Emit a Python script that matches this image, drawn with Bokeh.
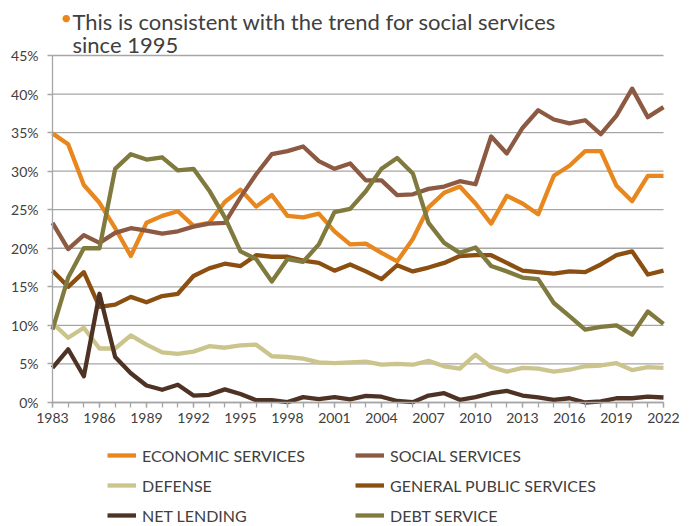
from bokeh.plotting import figure
from bokeh.models import (Legend, LegendItem, Label, FixedTicker, PrintfTickFormatter, Range1d)
from bokeh.embed import file_html
from bokeh.resources import INLINE

years = list(range(1983, 2023))
economic = [34.9, 33.5, 28.2, 25.9, 22.6, 19.0, 23.3, 24.2, 24.8, 22.9,
            23.3, 26.0, 27.6, 25.4, 26.9, 24.2, 24.0, 24.5, 22.2, 20.5,
            20.6, 19.4, 18.3, 21.2, 25.3, 27.2, 28.0, 25.8, 23.2, 26.8,
            25.8, 24.4, 29.4, 30.7, 32.6, 32.6, 28.1, 26.1, 29.4, 29.4]
social = [23.3, 19.9, 21.7, 20.7, 22.0, 22.6, 22.3, 21.9, 22.2, 22.8,
          23.2, 23.3, 26.6, 29.6, 32.2, 32.6, 33.2, 31.3, 30.3, 31.0,
          28.8, 28.8, 26.9, 27.0, 27.7, 28.0, 28.7, 28.3, 34.5, 32.3,
          35.6, 37.9, 36.7, 36.2, 36.6, 34.8, 37.2, 40.7, 37.0, 38.3]
defense = [10.3, 8.4, 9.7, 7.0, 7.0, 8.7, 7.5, 6.5, 6.3, 6.6,
           7.3, 7.1, 7.4, 7.5, 6.0, 5.9, 5.7, 5.2, 5.1, 5.2,
           5.3, 4.9, 5.0, 4.9, 5.4, 4.7, 4.4, 6.2, 4.6, 4.0,
           4.5, 4.4, 4.0, 4.25, 4.7, 4.8, 5.1, 4.2, 4.6, 4.5]
general_public = [17.1, 15.0, 16.9, 12.4, 12.7, 13.7, 13.0, 13.8, 14.1, 16.4,
                  17.4, 18.0, 17.7, 19.1, 18.9, 18.9, 18.4, 18.1, 17.1, 17.9,
                  17.0, 16.0, 17.8, 17.0, 17.5, 18.1, 19.0, 19.1, 19.1, 18.1,
                  17.1, 16.9, 16.7, 17.0, 16.9, 17.9, 19.1, 19.6, 16.6, 17.1]
net_lending = [4.5, 6.9, 3.4, 14.1, 5.9, 3.8, 2.2, 1.65, 2.3, 0.9,
               1.0, 1.7, 1.1, 0.3, 0.3, 0.05, 0.7, 0.45, 0.7, 0.4,
               0.85, 0.75, 0.2, 0.05, 0.9, 1.2, 0.35, 0.7, 1.2, 1.5,
               0.9, 0.65, 0.35, 0.55, 0.0, 0.15, 0.55, 0.55, 0.75, 0.65]
debt_service = [9.45, 16.2, 20.0, 20.0, 30.3, 32.2, 31.5, 31.8, 30.1, 30.3,
                27.5, 24.0, 19.6, 18.6, 15.7, 18.6, 18.25, 20.5, 24.7, 25.1,
                27.4, 30.3, 31.7, 29.7, 23.3, 20.7, 19.4, 20.1, 17.7, 17.0,
                16.2, 16.0, 12.9, 11.2, 9.45, 9.8, 10.0, 8.8, 11.8, 10.2]

series_names = ["ECONOMIC SERVICES", "SOCIAL SERVICES", "DEFENSE",
                "GENERAL PUBLIC SERVICES", "NET LENDING", "DEBT SERVICE"]
series_values = [economic, social, defense, general_public, net_lending, debt_service]
colors = ["#E8871E", "#8C5A42", "#CBC48C", "#8C4F12", "#4E3224", "#807A3E"]

x_ticks = list(range(1983, 2023, 3))
y_ticks = list(range(0, 50, 5))
title_lines = ["This is consistent with the trend for social services", "since 1995"]

FONT = "Lato"
TXT = "#404040"
GRID = "#A6A6A6"

# The frame covers the whole canvas: 1983..2022 sits at x 52..663, 0..45% at y 402..55
p = figure(width=692, height=526, output_backend="svg", toolbar_location=None,
           x_range=Range1d(1979.681, 2023.851), y_range=Range1d(-16.08, 52.13),
           min_border_left=0, min_border_right=0, min_border_top=0, min_border_bottom=0)
p.outline_line_color = None
p.background_fill_color = "white"
p.border_fill_color = "white"

p.xgrid.grid_line_color = None
p.ygrid.grid_line_color = None
# horizontal gridlines limited to the data span of the x axis
p.segment(x0=[years[0]] * len(y_ticks), x1=[years[-1]] * len(y_ticks), y0=y_ticks, y1=y_ticks,
          line_color=GRID, line_width=1.3, level="underlay")

p.xaxis.ticker = FixedTicker(ticks=x_ticks, minor_ticks=years)
p.xaxis.fixed_location = 0
p.xaxis.bounds = (years[0], years[-1])
p.yaxis.ticker = FixedTicker(ticks=y_ticks)
p.yaxis.formatter = PrintfTickFormatter(format="%d%%")
p.yaxis.fixed_location = years[0]
p.yaxis.bounds = (0, 45)
for ax in (p.xaxis, p.yaxis):
    ax.axis_line_color = GRID
    ax.axis_line_width = 1.3
    ax.major_tick_line_color = GRID
    ax.major_tick_line_width = 1.3
    ax.minor_tick_line_color = GRID
    ax.minor_tick_line_width = 1.3
    ax.major_tick_in = 0
    ax.major_tick_out = 5
    ax.minor_tick_in = 0
    ax.major_label_text_font = FONT
    ax.major_label_text_font_size = "14px"
    ax.major_label_text_color = TXT
p.xaxis.minor_tick_out = 5
p.yaxis.minor_tick_out = 0
p.xaxis.major_label_standoff = 6
p.yaxis.major_label_standoff = 9

renderers = []
for name, vals, col in zip(series_names, series_values, colors):
    r = p.line(years, vals, line_color=col, line_width=4.3, line_join="round")
    renderers.append(r)

col1 = [0, 2, 4]
col2 = [1, 3, 5]
for idxs, xloc in ((col1, 107), (col2, 355)):
    leg = Legend(items=[LegendItem(label=series_names[i], renderers=[renderers[i]]) for i in idxs],
                 location=(xloc, 1), orientation="vertical",
                 padding=0, margin=0, spacing=10, border_line_color=None,
                 background_fill_alpha=0, glyph_width=29, glyph_height=20,
                 label_height=20, label_standoff=6,
                 label_text_font=FONT, label_text_font_size="16px", label_text_color=TXT)
    p.add_layout(leg, "center")

p.add_layout(Label(x=60, y=510, x_units="screen", y_units="screen", text="\u2022",
                   text_font=FONT, text_font_size="20px", text_color="#E8871E",
                   text_baseline="middle"))
p.add_layout(Label(x=72, y=505, x_units="screen", y_units="screen", text=title_lines[0],
                   text_font=FONT, text_font_size="22px", text_color=TXT,
                   text_baseline="alphabetic"))
p.add_layout(Label(x=72, y=482, x_units="screen", y_units="screen", text=title_lines[1],
                   text_font=FONT, text_font_size="22px", text_color=TXT,
                   text_baseline="alphabetic"))

open("out.html", "w").write(file_html(p, INLINE))
